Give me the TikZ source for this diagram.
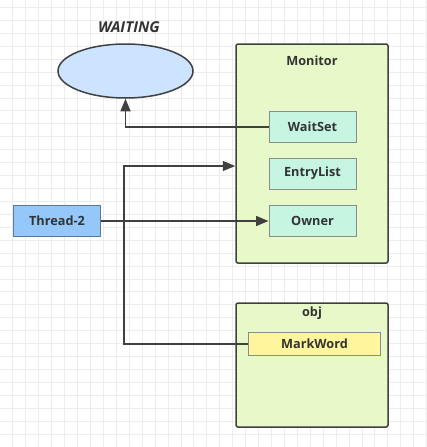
\documentclass[tikz,border=0pt]{standalone}
\usepackage{fontspec}
\setmainfont{Open Sans}
\usetikzlibrary{arrows.meta,shapes.geometric}

\definecolor{gridgray}{HTML}{EDEDED}
\definecolor{linegray}{HTML}{404040}
\definecolor{monitorgreen}{HTML}{E8F9C9}
\definecolor{slotmint}{HTML}{C6F5E2}
\definecolor{threadblue}{HTML}{94C8FA}
\definecolor{waitblue}{HTML}{CCE4FF}
\definecolor{markyellow}{HTML}{FFF59C}

\tikzset{
    lbl/.style={font=\bfseries\fontsize{12.7}{14}\selectfont, text=black!80},
    panel/.style={draw=linegray, line width=1.5pt, fill=monitorgreen, rounded corners=2pt},
    slot/.style={draw=black!45, line width=1pt, fill=slotmint, minimum width=87pt, minimum height=31pt, lbl},
    conn/.style={draw=linegray, line width=1.5pt},
    arr/.style={conn, -{Triangle[length=12.5pt,width=10pt]}}
}

\begin{document}
\begin{tikzpicture}[x=1pt, y=-1pt]
    \useasboundingbox (0,0) rectangle (427,447);

    % Grid
    \foreach \k in {1,...,33} {
        \pgfmathsetmacro{\gx}{\k*12.93-0.2}
        \draw[gridgray, line width=0.6pt] (\gx,0) -- (\gx,447);
    }
    \foreach \k in {0,...,34} {
        \pgfmathsetmacro{\gy}{7.3+\k*12.93}
        \draw[gridgray, line width=0.6pt] (0,\gy) -- (427,\gy);
    }

    % WAITING
    \node[lbl, font=\bfseries\itshape\fontsize{15}{17}\selectfont] (waitlabel) at (129,27) {WAITING};
    \node[ellipse, draw=linegray, line width=1.5pt, fill=waitblue,
          minimum width=135pt, minimum height=54pt, inner sep=0pt] (waiting) at (125.5,71) {};

    % Monitor
    \node[panel, minimum width=152pt, minimum height=219pt, inner sep=0pt] (monitor) at (312,153.5) {};
    \node[lbl] (monitortitle) at (312,61) {Monitor};
    \node[slot] (waitset) at (312.5,127) {WaitSet};
    \node[slot] (entrylist) at (312.5,173.5) {EntryList};
    \node[slot] (owner) at (312.5,221) {Owner};

    % obj
    \node[panel, minimum width=152pt, minimum height=124pt, inner sep=0pt] (obj) at (312,365) {};
    \node[lbl] (objtitle) at (312,313) {obj};
    \node[draw=black!45, line width=1pt, fill=markyellow, minimum width=132pt,
          minimum height=23pt, lbl] (markword) at (314.5,344) {MarkWord};

    % Thread-2
    \node[draw=black!40!threadblue, line width=1pt, fill=threadblue, minimum width=87pt,
          minimum height=31pt, lbl] (thread) at (57,221) {Thread-2};

    % Connectors
    \coordinate (split) at (124,221);
    \coordinate (uptop) at (124,166);
    \draw[arr] (waitset.west) -| (waiting.south);
    \draw[arr] (thread.east) -- (owner.west);
    \draw[arr] (split) -- (uptop) -- (uptop -| monitor.west);
    \draw[conn] (split) |- (markword.west);
\end{tikzpicture}
\end{document}
